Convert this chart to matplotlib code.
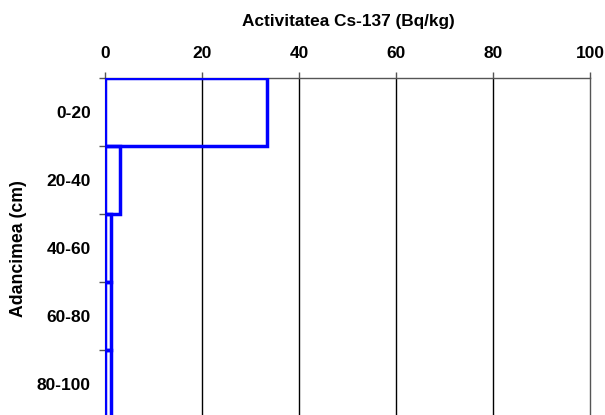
import numpy as np
import matplotlib
matplotlib.use('Agg')
import matplotlib.pyplot as plt
from matplotlib.ticker import FixedLocator, NullFormatter

# Cs-137 activity per depth interval
depth_labels = ['0-20', '20-40', '40-60', '60-80', '80-100']
activity = [33.4, 3.0, 1.3, 1.3, 1.3]
x_ticks = [0, 20, 40, 60, 80, 100]

plt.rcParams['font.family'] = ['Liberation Sans', 'DejaVu Sans']
plt.rcParams['font.weight'] = 'bold'

fig = plt.figure(figsize=(6.05, 4.15), dpi=100)
ax = fig.add_axes([105 / 605, 1 - 418 / 415, 485 / 605, 340 / 415])

pos = np.arange(len(depth_labels))
ax.barh(pos, activity, height=1.0, left=0, fill=False,
        edgecolor='#0000ff', linewidth=2.5, zorder=3)

ax.set_xlim(0, 100)
ax.set_ylim(len(depth_labels) - 0.5, -0.5)

# x axis on top, vertical grid lines
ax.xaxis.tick_top()
ax.set_xticks(x_ticks)
ax.set_xticklabels([str(t) for t in x_ticks], fontsize=12.5, fontweight='bold')
ax.tick_params(axis='x', direction='out', length=4.5, width=1, pad=8, color='#555555')
for t in x_ticks[1:-1]:
    ax.axvline(t, color='black', linewidth=1.0, zorder=1)

# depth boundaries as ticks, labels centred in each interval
ax.yaxis.set_major_locator(FixedLocator(np.arange(-0.5, len(depth_labels), 1.0)))
ax.yaxis.set_major_formatter(NullFormatter())
ax.yaxis.set_minor_locator(FixedLocator(pos))
ax.set_yticklabels(depth_labels, minor=True, fontsize=12.5, fontweight='bold')
ax.tick_params(axis='y', which='major', direction='out', length=4.5, width=1, color='#555555')
ax.tick_params(axis='y', which='minor', length=0, pad=10.3)

for side in ['top', 'right']:
    ax.spines[side].set_color('#555555')
    ax.spines[side].set_linewidth(1.0)
ax.spines['bottom'].set_visible(False)
ax.spines['left'].set_color('black')

fig.text(348 / 605, 1 - 21.5 / 415, 'Activitatea Cs-137 (Bq/kg)', ha='center', va='center',
         fontsize=12.4, fontweight='bold')
fig.text(19 / 605, 1 - 249 / 415, 'Adancimea (cm)', ha='center', va='center',
         rotation=90, fontsize=12.7, fontweight='bold')

fig.savefig('out.png', dpi=100)
